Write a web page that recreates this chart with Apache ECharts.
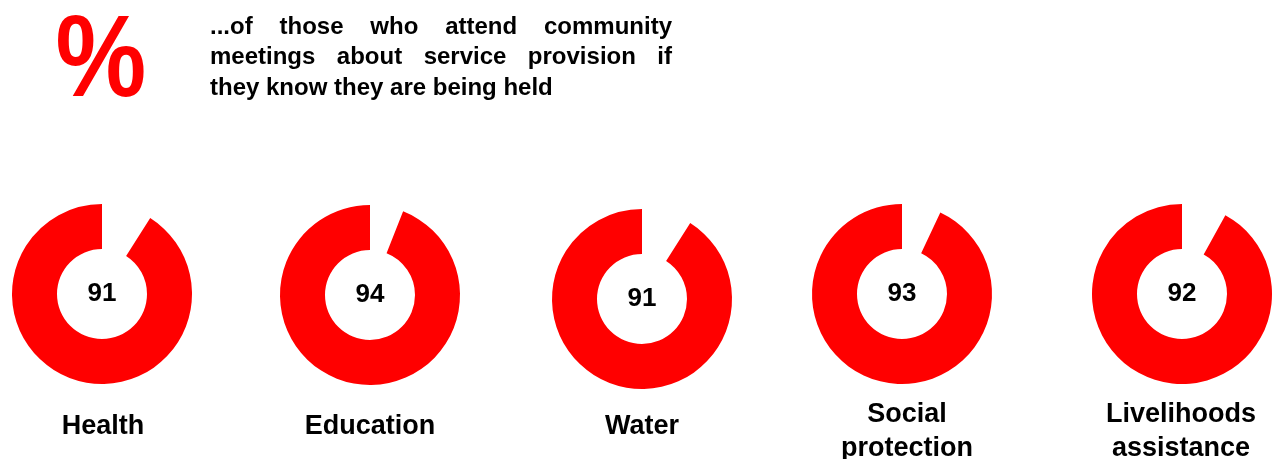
<!DOCTYPE html>
<html>
<head>
<meta charset="utf-8">
<script src="https://cdn.jsdelivr.net/npm/echarts@6/dist/echarts.min.js"></script>
<style>
html,body{margin:0;padding:0;background:#fff;}
#c{width:1279px;height:459px;}
</style>
</head>
<body>
<div id="c"></div>
<script>
// ---- data ----
const categories = ['Health', 'Education', 'Water', 'Social\nprotection', 'Livelihoods\nassistance'];
const values = [91, 94, 91, 93, 92];
const titleSymbol = '%';
const titleLines = [
  '...of those who attend community',
  'meetings about service provision if',
  'they know they are being held'
];

// ---- layout ----
const RED = '#FF0000';
const centers = [[102, 294], [370, 295], [642, 299], [902, 294], [1182, 294]];
const labelX = [103, 370, 642, 907, 1181];
const labelY = [427, 427, 427, 415, 415];
const FONT = '"Liberation Sans", Arial, sans-serif';

const chart = echarts.init(document.getElementById('c'), null, {renderer: 'canvas'});

const series = values.map((v, i) => ({
  type: 'pie',
  name: categories[i],
  center: centers[i],
  radius: [45, 90],
  startAngle: 90,
  clockwise: true,
  silent: true,
  animation: false,
  labelLine: {show: false},
  emphasis: {disabled: true},
  data: [
    {value: 100 - v, name: 'rest', itemStyle: {color: 'rgba(0,0,0,0)'}, label: {show: false}},
    {value: v, name: categories[i], itemStyle: {color: RED},
      label: {show: true, position: 'center', formatter: '{c}', color: '#000',
        fontFamily: FONT, fontWeight: 'bold', fontSize: 26}}
  ]
}));

// title text, justified lines 1-2
const titleFont = 'bold 24px ' + FONT;
const mctx = document.createElement('canvas').getContext('2d');
mctx.font = titleFont;
const tx0 = 210, tx1 = 672;
const baselines = [34, 64, 95];
const graphics = [];
titleLines.forEach((line, li) => {
  const words = line.split(' ');
  const justify = li < titleLines.length - 1;
  const widths = words.map(w => mctx.measureText(w).width);
  const total = widths.reduce((a, b) => a + b, 0);
  const gap = justify ? (tx1 - tx0 - total) / (words.length - 1) : mctx.measureText(' ').width;
  let x = tx0;
  words.forEach((w, wi) => {
    graphics.push({
      type: 'text', x: x, y: baselines[li] + 5, silent: true,
      style: {text: w, font: titleFont, fill: '#000', textAlign: 'left', textVerticalAlign: 'bottom'}
    });
    x += widths[wi] + gap;
  });
});

graphics.push({
  type: 'text', x: 101, y: 64, scaleX: 0.88, silent: true,
  style: {text: titleSymbol, font: 'bold 116px ' + FONT, fill: RED, textAlign: 'center', textVerticalAlign: 'middle'}
});

categories.forEach((c, i) => {
  graphics.push({
    type: 'text', x: labelX[i], y: labelY[i] - 17, silent: true,
    style: {text: c, font: 'bold 27px ' + FONT, fill: '#000', textAlign: 'center', textVerticalAlign: 'top',
      lineHeight: 34}
  });
});

chart.setOption({
  backgroundColor: '#fff',
  animation: false,
  series: series,
  graphic: graphics
});
</script>
</body>
</html>
